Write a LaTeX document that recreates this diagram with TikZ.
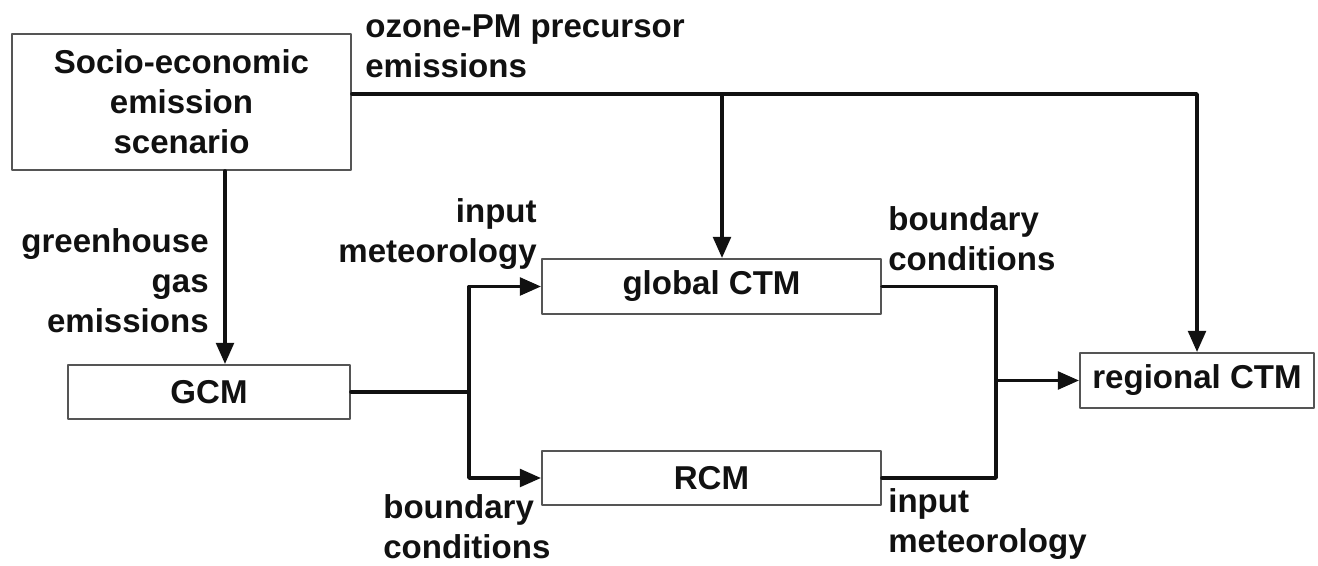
\documentclass[tikz,border=0pt]{standalone}
\usepackage{fontspec}
\setmainfont{Liberation Sans}
\usepackage{tikz}
\definecolor{ink}{HTML}{111111}
\definecolor{frame}{HTML}{555555}
\usetikzlibrary{
  arrows.meta,
  positioning,
  calc
}
\tikzset{
  >={Triangle[length=12pt, width=10pt]},
  every picture/.style={line cap=round, line join=round},
  every node/.style={font=\bfseries\fontsize{18.8}{22.8}\selectfont, text=ink},
  block/.style={
    draw=frame,
    fill=white,
    line width=1.1pt,
    align=center,
    inner sep=0pt
  },
  annot/.style={inner sep=0pt},
  arrow/.style={->, line width=2pt, draw=ink},
  link/.style={line width=2pt, draw=ink}
}

\begin{document}
\begin{tikzpicture}
  \useasboundingbox (0,0) rectangle (26.36,11.32);

  % Models and scenario
  \node[block, minimum width=6.78cm, minimum height=2.72cm] (socio) at (3.63,9.28) {Socio-economic\\emission\\scenario};
  \node[block, minimum width=5.64cm, minimum height=1.08cm] (gcm) at (4.18,3.48) {GCM};
  \node[block, minimum width=6.78cm, minimum height=1.10cm] (gctm) at (14.23,5.59) {global CTM};
  \node[block, minimum width=6.78cm, minimum height=1.08cm] (rcm) at (14.23,1.76) {RCM};
  \node[block, minimum width=4.68cm, minimum height=1.10cm] (rctm) at (23.94,3.71) {regional CTM};

  % Labels on the links
  \node[annot, anchor=north west, align=left] (lprec) at (7.30,11.04) {ozone-PM precursor\\emissions};
  \node[annot, anchor=north east, align=right] (lghg) at (4.18,6.76) {greenhouse\\gas\\emissions};
  \node[annot, anchor=north east, align=right] (lmetg) at (10.74,7.36) {input\\meteorology};
  \node[annot, anchor=north west, align=left] (lbcr) at (7.66,1.44) {boundary\\conditions};
  \node[annot, anchor=north west, align=left] (lbcg) at (17.76,7.20) {boundary\\conditions};
  \node[annot, anchor=north west, align=left] (lmetr) at (17.76,1.56) {input\\meteorology};

  % Turning points of the links
  \coordinate (top) at (0,9.44);
  \coordinate (split) at (14.44,9.44);
  \coordinate (ghg) at (4.50,0);
  \coordinate (fork) at (9.38,0);
  \coordinate (merge) at (19.92,0);

  % Emissions
  \draw[arrow] (socio.east |- top) -- (rctm.north |- top) -- (rctm.north);
  \draw[arrow] (split) -- (split |- gctm.north);
  \draw[arrow] (ghg |- socio.south) -- (ghg |- gcm.north);

  % Meteorology and boundary conditions
  \draw[link] (gcm.east) -- (fork |- gcm.east);
  \draw[arrow] (fork |- gcm.east) |- (gctm.west);
  \draw[arrow] (fork |- gcm.east) |- (rcm.west);
  \draw[link] (gctm.east) -- (merge |- gctm.east) -- (merge |- rcm.east) -- (rcm.east);
  \draw[arrow] (merge |- rctm.west) -- (rctm.west);
\end{tikzpicture}
\end{document}
